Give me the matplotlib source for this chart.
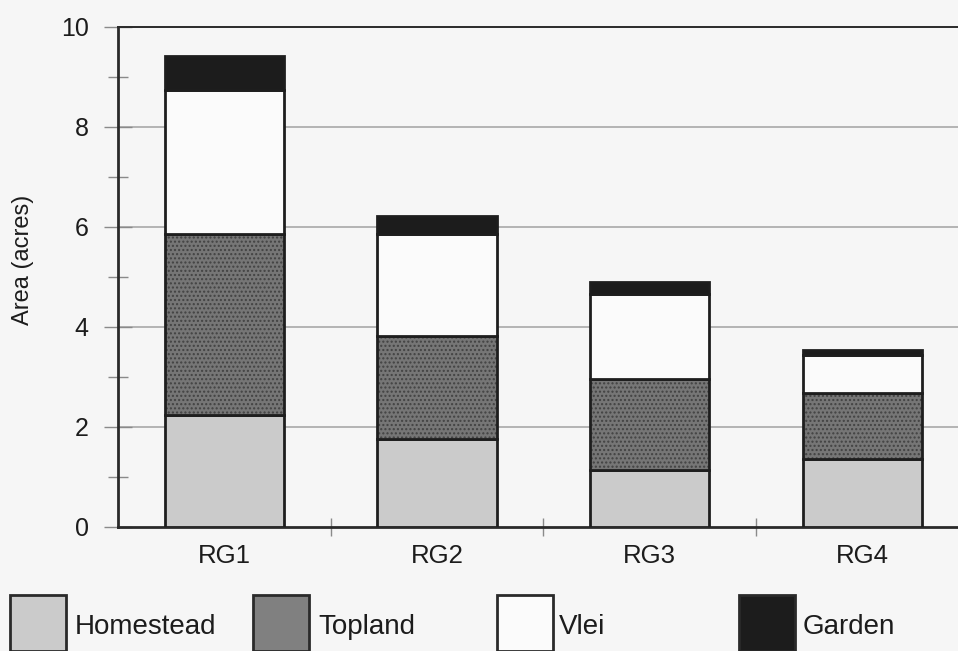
import matplotlib
matplotlib.use("Agg")
import matplotlib.pyplot as plt
from matplotlib.patches import Rectangle
from matplotlib.ticker import MultipleLocator, FixedLocator
import numpy as np

# Land area by category for each respondent group (acres)
groups = ["RG1", "RG2", "RG3", "RG4"]
homestead = [2.24, 1.77, 1.14, 1.37]
topland = [3.62, 2.06, 1.82, 1.32]
vlei = [2.88, 2.04, 1.70, 0.75]
garden = [0.68, 0.35, 0.25, 0.11]

series_names = ["Homestead", "Topland", "Vlei", "Garden"]
y_ticks = [0, 2, 4, 6, 8, 10]

plt.rcParams["font.family"] = ["Liberation Sans", "DejaVu Sans"]
plt.rcParams["hatch.linewidth"] = 1.0

BG = "#f6f6f6"
INK = "#1c1c1c"
W, H = 958, 651

fig = plt.figure(figsize=(W / 100, H / 100), dpi=100, facecolor=BG)
ax = fig.add_axes([118 / W, 1 - 527 / H, (958 - 118) / W, 500 / H])
ax.set_facecolor(BG)

styles = [
    dict(facecolor="#cbcbcb", hatch=None),
    dict(facecolor="#767676", hatch="....", hatchcolor="#424242"),
    dict(facecolor="#fbfbfb", hatch=None),
    dict(facecolor="#1c1c1c", hatch=None),
]

x = np.arange(len(groups))
bottom = np.zeros(len(groups))
for vals, st in zip([homestead, topland, vlei, garden], styles):
    kw = dict(facecolor=st["facecolor"], edgecolor="#1e1e1e", linewidth=2.0, zorder=3)
    if st["hatch"]:
        kw["hatch"] = st["hatch"]
    bars = ax.bar(x, vals, width=0.56, bottom=bottom, **kw)
    if st["hatch"]:
        for b in bars:
            b._hatch_color = matplotlib.colors.to_rgba(st["hatchcolor"])
    bottom += np.array(vals)

ax.set_xlim(-0.5, -0.5 + (958 - 118) / 212.7)
ax.set_ylim(0, 10)

# horizontal gridlines
for v in y_ticks[1:-1]:
    ax.axhline(v, color="#a8a8a8", lw=1.2, zorder=1)

ax.spines["right"].set_visible(False)
ax.spines["top"].set_color("#2a2a2a")
ax.spines["top"].set_linewidth(1.4)
ax.spines["left"].set_color("#2a2a2a")
ax.spines["left"].set_linewidth(2.0)
ax.spines["bottom"].set_color("#2a2a2a")
ax.spines["bottom"].set_linewidth(2.0)

ax.yaxis.set_major_locator(FixedLocator(y_ticks))
ax.yaxis.set_minor_locator(MultipleLocator(1))
ax.set_yticklabels([str(v) for v in y_ticks])
ax.tick_params(axis="y", which="major", direction="inout", length=20, width=1,
               color="#8a8a8a", labelsize=18, labelcolor=INK, pad=11)
ax.tick_params(axis="y", which="minor", direction="inout", length=14, width=1,
               color="#8a8a8a")

ax.set_xticks(x)
ax.set_xticklabels(groups)
ax.xaxis.set_minor_locator(FixedLocator([0.5, 1.5, 2.5]))
ax.tick_params(axis="x", which="major", length=0, labelsize=18.5, labelcolor=INK, pad=12)
ax.tick_params(axis="x", which="minor", direction="inout", length=13, width=1,
               color="#8a8a8a")

ax.set_ylabel("Area (acres)", fontsize=17, color=INK)
ax.yaxis.set_label_coords(-0.1, 0.534)

# legend row along the bottom edge
legend_items = [
    (10, 75, "#cbcbcb"),
    (253, 318, "#808080"),
    (497, 559, "#fbfbfb"),
    (739, 803, "#1c1c1c"),
]
for (px, tx, fc), name in zip(legend_items, series_names):
    fig.add_artist(Rectangle((px / W, 0), 56 / W, (H - 608) / H + 0.02,
                             transform=fig.transFigure, facecolor=fc,
                             edgecolor="#2a2a2a", linewidth=2.0))
    fig.text(tx / W, 1 - 627 / H, name, fontsize=20, color=INK,
             ha="left", va="center")

fig.savefig("out.png", dpi=100, facecolor=BG)
